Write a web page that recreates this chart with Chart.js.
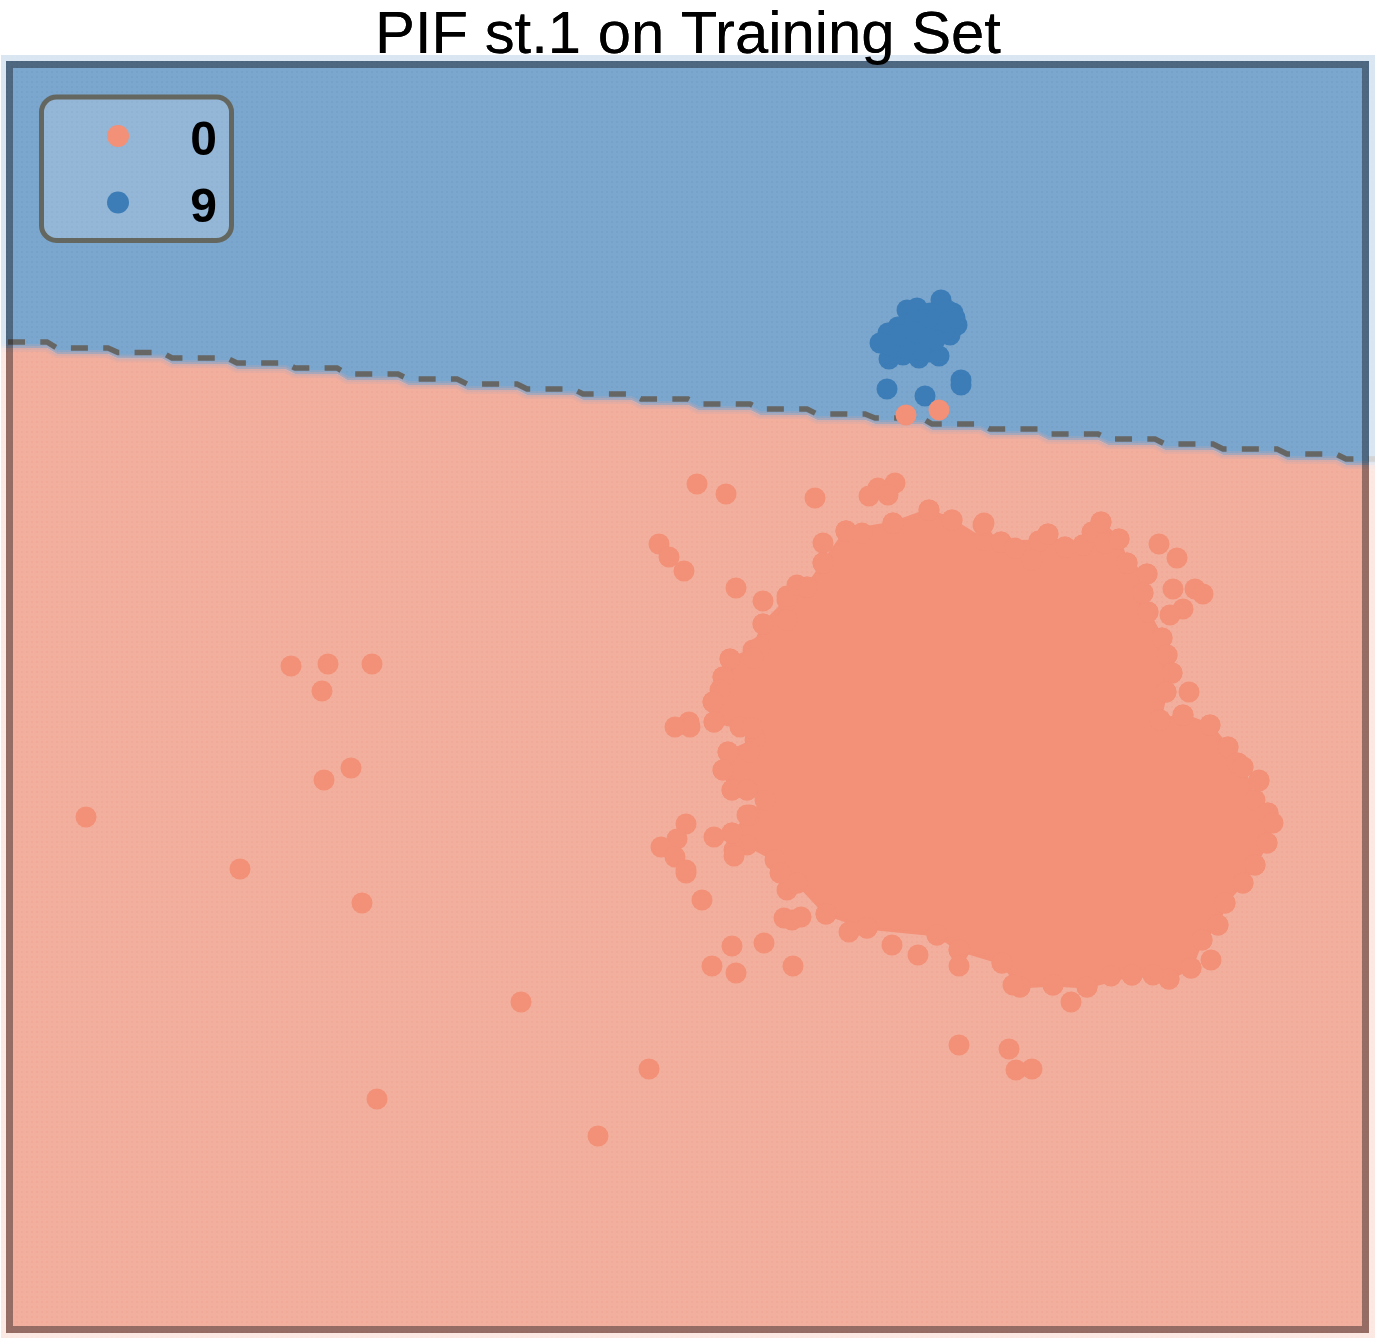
<!DOCTYPE html>
<html>
<head>
<meta charset="utf-8">
<title>PIF st.1 on Training Set</title>
<script src="https://cdn.jsdelivr.net/npm/chart.js@4"></script>
<style>
  html, body { margin: 0; padding: 0; background: #fff; }
  #wrap { width: 1379px; height: 1342px; position: relative; }
</style>
</head>
<body>
<div id="wrap"><canvas id="chart"></canvas></div>
<script>
const titleText = "PIF st.1 on Training Set";
const classLabels = ["0", "9"];

// decision boundary (staircase of the contour)
const boundaryX = [1, 9, 47, 57, 108, 118, 162, 172, 227, 237, 285, 295, 337, 347, 398, 408, 457, 467, 517, 527, 573, 583, 631, 641, 688, 698, 750, 760, 807, 817, 865, 875, 922, 932, 980, 990, 1038, 1048, 1098, 1108, 1155, 1165, 1213, 1223, 1277, 1287, 1336, 1346, 1375];
const boundaryY = [342, 342, 342, 348, 348, 352.5, 352.5, 358, 358, 363, 363, 368, 368, 374, 374, 379, 379, 384, 384, 389, 389, 394, 394, 399, 399, 404, 404, 409, 409, 414, 414, 418, 418, 424, 424, 429, 429, 434, 434, 439, 439, 444, 444, 449, 449, 454, 454, 459, 459];
// edge between the two colours sits a little under the dashes
const regionY = [348, 348, 348, 354, 354, 358.5, 358.5, 364, 364, 369, 369, 374, 374, 380, 380, 385, 385, 390, 390, 395, 395, 400, 400, 405, 405, 410, 410, 415, 415, 420, 420, 424, 424, 430, 430, 435, 435, 440, 440, 445, 445, 450, 450, 455, 455, 460, 460, 465, 465];

// outline of the part of class 0 where the dots merge into one mass
const denseX = [846, 893, 929, 952, 984, 1001, 1039, 1048, 1065, 1083, 1101, 1119, 1127, 1147, 1143, 1148, 1162, 1167, 1172, 1166, 1160, 1183, 1210, 1228, 1238, 1243, 1255, 1268, 1267, 1255, 1243, 1225, 1218, 1202, 1191, 1169, 1132, 1087, 1053, 1020, 1002, 959, 937, 867, 826, 797, 775, 747, 734, 732, 750, 765, 747, 732, 723, 728, 755, 752, 740, 714, 713, 723, 730, 753, 763, 787, 807, 823];
const denseY = [531, 523, 510, 520, 540, 542, 541, 534, 547, 545, 522, 539, 563, 574, 593, 612, 638, 655, 673, 692, 720, 715, 725, 747, 763, 767, 800, 813, 843, 865, 883, 903, 925, 940, 968, 979, 975, 987, 985, 987, 963, 950, 935, 928, 914, 883, 860, 845, 850, 833, 815, 800, 790, 790, 770, 752, 740, 728, 727, 722, 702, 677, 659, 650, 624, 600, 587, 563];

const class0X = [291, 328, 372, 322, 351, 324, 86, 240, 362, 521, 649, 377, 598, 959, 1009, 1016, 1032, 906, 939,
  697, 726, 815, 895, 878, 869, 888, 929, 952, 983, 659, 669, 684, 736, 763, 787, 797, 823, 823, 846, 862, 893,
  763, 760, 730, 753, 723, 720, 713, 714, 689, 690, 675, 752, 787, 807,
  728, 750, 723, 732, 747, 686, 677, 661, 675, 686, 686, 702, 714, 732, 734, 747, 787, 797, 784, 792, 801, 826, 732, 764, 712, 736, 793, 849, 867, 892, 918, 959, 959, 937, 780,
  984, 1001, 1015, 1039, 1048, 1065, 1083, 1092, 1101, 1105, 1119, 1032, 1127, 1147, 1159, 1177, 1173, 1195, 1203, 1183, 1170, 1148, 1143, 1162, 1167, 1172, 1189, 1166, 1183, 1160, 1210, 1228, 1237, 1259,
  1259, 1243, 1268, 1273, 1267, 1255, 1243, 1225, 1218, 1202, 1211, 1191, 1169, 1153, 1132, 1111, 1087, 1071, 1053, 1020, 1013, 1002];
const class0Y = [666, 664, 664, 691, 768, 780, 817, 869, 903, 1002, 1069, 1099, 1136, 1045, 1049, 1070, 1069, 415, 410,
  484, 494, 498, 483, 488, 496, 495, 510, 520, 525, 544, 557, 571, 588, 601, 596, 585, 543, 563, 531, 533, 523,
  624, 647, 659, 658, 677, 690, 702, 722, 722, 727, 727, 728, 620, 587,
  752, 752, 770, 790, 790, 824, 839, 847, 857, 873, 870, 900, 837, 833, 856, 815, 890, 883, 918, 920, 917, 914, 946, 943, 966, 973, 966, 932, 928, 945, 955, 950, 966, 935, 873,
  523, 542, 548, 541, 534, 547, 545, 532, 522, 543, 539, 560, 563, 574, 544, 558, 589, 589, 594, 609, 615, 612, 593, 638, 655, 673, 692, 692, 715, 720, 725, 747, 763, 780,
  781, 767, 813, 823, 843, 865, 883, 903, 925, 940, 960, 968, 979, 975, 975, 976, 987, 1002, 985, 987, 985, 963];

const class9X = [941, 917, 907, 953, 957, 950, 930, 898, 888, 880, 889, 903, 919, 939, 930, 917, 933, 903, 893, 910, 923, 940, 947, 887, 925, 961, 961, 905, 915, 925, 935, 945, 895, 910, 925, 935, 920, 905, 948, 955, 890, 900, 915, 928];
const class9Y = [300, 308, 310, 313, 325, 335, 313, 327, 333, 343, 359, 355, 358, 356, 352, 337, 330, 340, 347, 323, 327, 323, 310, 389, 396, 380, 385, 325, 320, 320, 320, 330, 340, 345, 345, 340, 350, 348, 322, 318, 345, 335, 332, 338];

const salmon = "#f29078";
const blue = "#3c7db7";

function xy(xs, ys) {
  return xs.map((x, i) => ({ x: x, y: ys[i] }));
}

// the decision surface has a faint dotted texture
function texture(base, dot) {
  const c = document.createElement("canvas");
  c.width = 5;
  c.height = 5;
  const g = c.getContext("2d");
  g.fillStyle = base;
  g.fillRect(0, 0, 5, 5);
  g.fillStyle = dot;
  g.fillRect(1, 1, 2, 2);
  return g.createPattern(c, "repeat");
}

// white wash around the frame, then the frame itself, then the title on top
const framePlugin = {
  id: "frame",
  afterDatasetsDraw(chart) {
    const ctx = chart.ctx;
    const a = chart.chartArea;
    ctx.save();
    ctx.beginPath();
    ctx.rect(a.left, a.top, a.right - a.left, a.bottom - a.top);
    ctx.rect(6, 61, 1363, 1272);
    ctx.fillStyle = "rgba(255,255,255,0.72)";
    ctx.fill("evenodd");
    ctx.strokeStyle = "rgba(20,20,25,0.42)";
    ctx.lineWidth = 7;
    ctx.strokeRect(9.5, 64.5, 1356, 1265);
    ctx.restore();
    chart.titleBlock.draw();
  },
};

const legendPlugin = {
  id: "boxLegend",
  afterDatasetsDraw(chart, args, opts) {
    const ctx = chart.ctx;
    ctx.save();
    ctx.beginPath();
    ctx.roundRect(41.5, 97, 190, 143.5, 15);
    ctx.fillStyle = "rgba(255,255,255,0.2)";
    ctx.fill();
    ctx.lineWidth = 5;
    ctx.strokeStyle = "#63675f";
    ctx.stroke();
    opts.labels.forEach((label, i) => {
      const y = 136 + i * 66.5;
      ctx.beginPath();
      ctx.arc(118, y, 11, 0, Math.PI * 2);
      ctx.fillStyle = opts.colors[i];
      ctx.fill();
      ctx.fillStyle = "#000";
      ctx.font = 'bold 48px "Liberation Sans"';
      ctx.textAlign = "center";
      ctx.textBaseline = "alphabetic";
      ctx.fillText(label, 203.5, y + 19);
    });
    ctx.restore();
  },
};

const ctx = document.getElementById("chart").getContext("2d");

new Chart(ctx, {
  type: "scatter",
  data: {
    datasets: [
      {
        label: "region 9",
        type: "line",
        data: xy(boundaryX, regionY),
        fill: "end",
        backgroundColor: texture("#7ba6cd", "#76a1c9"),
        borderWidth: 0,
        pointRadius: 0,
        order: 7,
      },
      {
        label: "region 0",
        type: "line",
        data: xy(boundaryX, regionY),
        fill: "start",
        backgroundColor: texture("#f3af9d", "#f1aa97"),
        borderWidth: 0,
        pointRadius: 0,
        order: 6,
      },
      {
        label: "region edge wide",
        type: "line",
        data: xy(boundaryX, regionY),
        fill: false,
        borderColor: "rgba(200,170,175,0.28)",
        borderWidth: 8,
        pointRadius: 0,
        order: 5,
      },
      {
        label: "region edge",
        type: "line",
        data: xy(boundaryX, regionY),
        fill: false,
        borderColor: "rgba(200,170,175,0.45)",
        borderWidth: 4,
        pointRadius: 0,
        order: 4,
      },
      {
        label: "boundary",
        type: "line",
        data: xy(boundaryX, boundaryY),
        fill: false,
        borderColor: "#666664",
        borderWidth: 5.5,
        borderDash: [17, 15.3],
        borderDashOffset: -7,
        pointRadius: 0,
        order: 3,
      },
      {
        label: "0 dense",
        type: "line",
        data: xy(denseX.concat(denseX[0]), denseY.concat(denseY[0])),
        fill: "shape",
        backgroundColor: salmon,
        borderColor: salmon,
        borderWidth: 3,
        borderJoinStyle: "round",
        pointRadius: 10.5,
        pointBackgroundColor: salmon,
        pointBorderWidth: 0,
        order: 2,
      },
      {
        label: "9",
        data: xy(class9X, class9Y),
        backgroundColor: blue,
        pointRadius: 10.5,
        pointBorderWidth: 0,
        order: 1,
      },
      {
        label: "0",
        data: xy(class0X, class0Y),
        backgroundColor: salmon,
        pointRadius: 10.5,
        pointBorderWidth: 0,
        order: 0,
      },
    ],
  },
  options: {
    responsive: true,
    maintainAspectRatio: false,
    animation: false,
    layout: {
      autoPadding: false,
      padding: { left: 1, right: 4, bottom: 4, top: 0 },
    },
    scales: {
      x: { type: "linear", min: 1, max: 1375, display: false },
      y: { type: "linear", min: 55, max: 1338, reverse: true, display: false },
    },
    plugins: {
      legend: { display: false },
      tooltip: { enabled: false },
      title: {
        display: true,
        fullSize: false,
        text: titleText,
        color: "#000",
        font: { family: '"Liberation Sans"', size: 59.8, weight: "normal", lineHeight: 1 },
        padding: { top: 7, bottom: -11.8 },
      },
      boxLegend: {
        labels: classLabels,
        colors: [salmon, blue],
      },
    },
  },
  plugins: [framePlugin, legendPlugin],
});
</script>
</body>
</html>
